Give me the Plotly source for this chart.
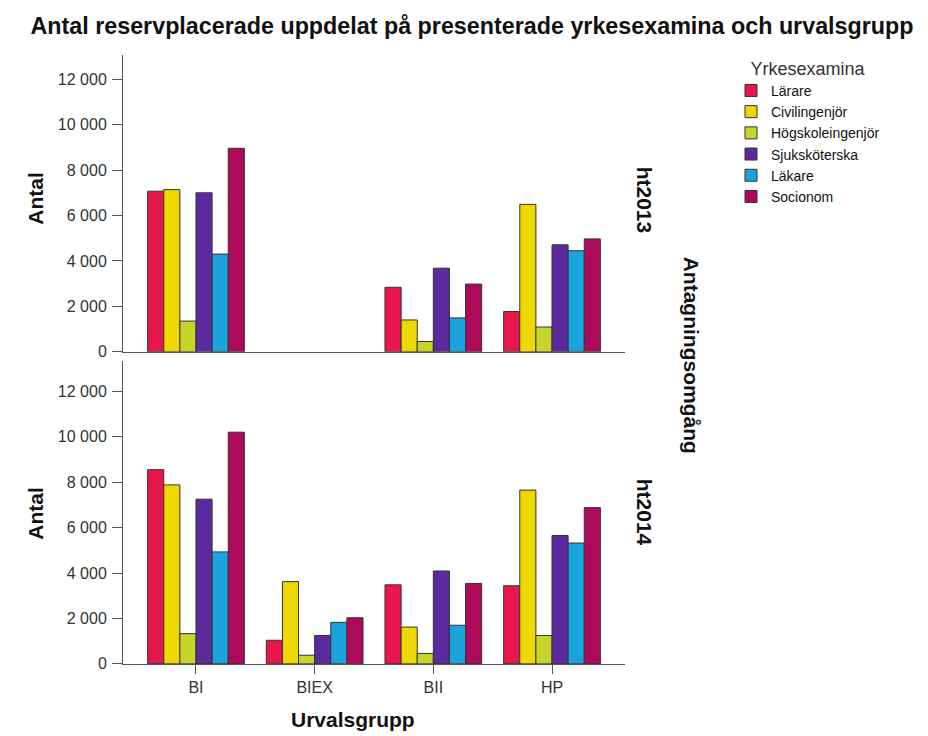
import plotly.graph_objects as go

# ---------------- data ----------------
groups = ["BI", "BIEX", "BII", "HP"]
occupations = ["Lärare", "Civilingenjör", "Högskoleingenjör", "Sjuksköterska", "Läkare", "Socionom"]

# ht2013 values (BIEX has no data)
ht2013_larare = [7070, None, 2840, 1770]
ht2013_civ = [7140, None, 1400, 6490]
ht2013_hog = [1350, None, 450, 1090]
ht2013_sjuk = [7000, None, 3680, 4710]
ht2013_lak = [4300, None, 1490, 4450]
ht2013_soc = [8960, None, 2980, 4970]

# ht2014 values
ht2014_larare = [8550, 1040, 3480, 3440]
ht2014_civ = [7880, 3620, 1620, 7650]
ht2014_hog = [1330, 380, 460, 1250]
ht2014_sjuk = [7250, 1250, 4090, 5650]
ht2014_lak = [4930, 1830, 1700, 5320]
ht2014_soc = [10200, 2030, 3540, 6880]

ytick_vals = [0, 2000, 4000, 6000, 8000, 10000, 12000]
ytick_text = ["0", "2 000", "4 000", "6 000", "8 000", "10 000", "12 000"]

colors = ["#E8174B", "#EED800", "#C6D52B", "#5A2A9E", "#1BA3DD", "#AE0A5C"]

series_2013 = [ht2013_larare, ht2013_civ, ht2013_hog, ht2013_sjuk, ht2013_lak, ht2013_soc]
series_2014 = [ht2014_larare, ht2014_civ, ht2014_hog, ht2014_sjuk, ht2014_lak, ht2014_soc]

# ---------------- figure ----------------
fig = go.Figure()
for name, col, v13, v14 in zip(occupations, colors, series_2013, series_2014):
    fig.add_trace(go.Bar(x=groups, y=v13, name=name, legendgroup=name,
                         marker=dict(color=col, line=dict(color="#333333", width=1)),
                         xaxis="x", yaxis="y", showlegend=True))
    fig.add_trace(go.Bar(x=groups, y=v14, name=name, legendgroup=name,
                         marker=dict(color=col, line=dict(color="#333333", width=1)),
                         xaxis="x2", yaxis="y2", showlegend=False))

W, H = 928, 736
xdom = [115 / W, 617 / W]
axis_font = dict(family="Liberation Sans, Arial", size=16, color="#333333")
common_x = dict(type="category", categoryorder="array", categoryarray=groups,
                range=[-0.615, 3.615], domain=xdom, showline=True, linecolor="#555555",
                linewidth=1, showgrid=False, zeroline=False, tickfont=axis_font, fixedrange=True)
common_y = dict(showline=True, linecolor="#555555", linewidth=1, showgrid=False, zeroline=False,
                ticks="outside", ticklen=10, tickcolor="#555555", tickvals=ytick_vals,
                ticktext=ytick_text, tickfont=axis_font, ticklabelstandoff=2)

fig.update_layout(
    width=W, height=H,
    margin=dict(l=0, r=0, t=0, b=0),
    paper_bgcolor="white", plot_bgcolor="white",
    barmode="group", bargap=0.185, bargroupgap=0,
    xaxis=dict(common_x, anchor="y", ticks="", showticklabels=False),
    yaxis=dict(common_y, anchor="x", domain=[1 - 348 / H, 1 - 48 / H], range=[0, 13050]),
    xaxis2=dict(common_x, anchor="y2", ticks="outside", ticklen=9, tickcolor="#555555"),
    yaxis2=dict(common_y, anchor="x2", domain=[1 - 664 / H, 1 - 357 / H], range=[0, 13350]),
    title=dict(text="<b>Antal reservplacerade uppdelat på presenterade yrkesexamina och urvalsgrupp</b>",
               x=0.5, xanchor="center", y=1 - 18 / H, yanchor="middle",
               font=dict(family="Liberation Sans, Arial", size=23.3, color="#111111")),
    legend=dict(x=723 / W, xanchor="left", y=1 - 44 / H, yanchor="top",
                title=dict(text="Yrkesexamina", side="top center",
                           font=dict(family="Liberation Sans, Arial", size=18, color="#333333")),
                font=dict(family="Liberation Sans, Arial", size=14, color="#111111"),
                traceorder="normal", bgcolor="rgba(0,0,0,0)", itemclick=False),
    showlegend=True,
)

lab_font = dict(family="Liberation Sans, Arial", size=21, color="#111111")
annots = [
    dict(text="<b>Antal</b>", x=28 / W, y=1 - 193 / H, textangle=-90),
    dict(text="<b>Antal</b>", x=28 / W, y=1 - 512 / H, textangle=-90),
    dict(text="<b>Urvalsgrupp</b>", x=345 / W, y=1 - 720 / H, textangle=0),
    dict(text="<b>ht2013</b>", x=636 / W, y=1 - 194 / H, textangle=90),
    dict(text="<b>ht2014</b>", x=636 / W, y=1 - 510 / H, textangle=90),
    dict(text="<b>Antagningsomgång</b>", x=683 / W, y=1 - 351 / H, textangle=90),
]
for a in annots:
    fig.add_annotation(xref="paper", yref="paper", xanchor="center", yanchor="middle",
                       showarrow=False, font=lab_font, **a)

fig.write_html("out.html")
